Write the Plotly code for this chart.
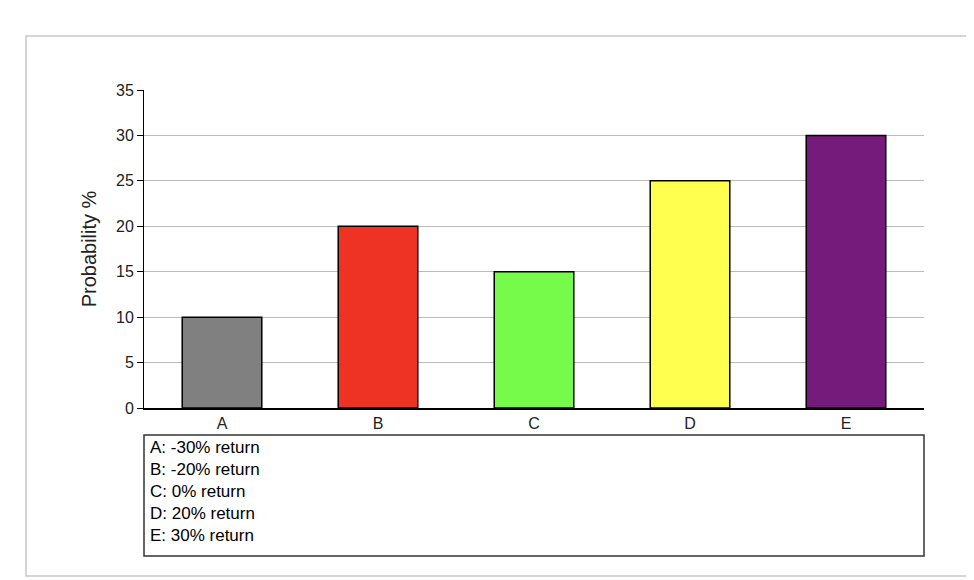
import plotly.graph_objects as go

categories = ["A", "B", "C", "D", "E"]
probability = [10, 20, 15, 25, 30]
colors = ["#808080", "#ee3224", "#76fb4b", "#ffff4f", "#741b7b"]
legend_lines = ["A: -30% return", "B: -20% return", "C: 0% return", "D: 20% return", "E: 30% return"]

W, H = 974, 580
L, R, T, B = 136, 58, 82, 180
pw, ph = W - L - R, H - T - B

def px(x):
    return (x - L) / pw

def py(y):
    return (H - B - y) / ph

fig = go.Figure(go.Bar(
    x=categories, y=probability,
    marker=dict(color=colors, line=dict(color="black", width=1.5)),
))

fig.update_layout(
    width=W, height=H,
    margin=dict(l=L, r=R, t=T, b=B),
    plot_bgcolor="white", paper_bgcolor="white",
    font=dict(family="Liberation Sans, Arial", color="#222"),
    bargap=0.49, showlegend=False,
    xaxis=dict(showline=True, linecolor="black", linewidth=1.5,
               tickfont=dict(size=16), ticks="", showgrid=False),
    yaxis=dict(range=[0, 35], dtick=5, showline=True, linecolor="black",
               ticks="outside", ticklen=6, tickcolor="black",
               gridcolor="#bbbbbb", tickfont=dict(size=16),
               title=dict(text="Probability %", font=dict(size=20), standoff=14)),
    shapes=[
        dict(type="rect", xref="paper", yref="paper",
             x0=px(18), x1=px(973), y0=py(568), y1=py(28),
             line=dict(color="#c8c8c8", width=1.5)),
        dict(type="rect", xref="paper", yref="paper",
             x0=px(136), x1=px(916), y0=py(548), y1=py(427),
             line=dict(color="#333", width=1.5)),
    ],
    annotations=[dict(
        xref="paper", yref="paper", x=px(140), y=py(428),
        xanchor="left", yanchor="top", align="left", showarrow=False,
        text="<br>".join(legend_lines), font=dict(size=17, color="black"),
    )],
)

fig.write_html("out.html")
